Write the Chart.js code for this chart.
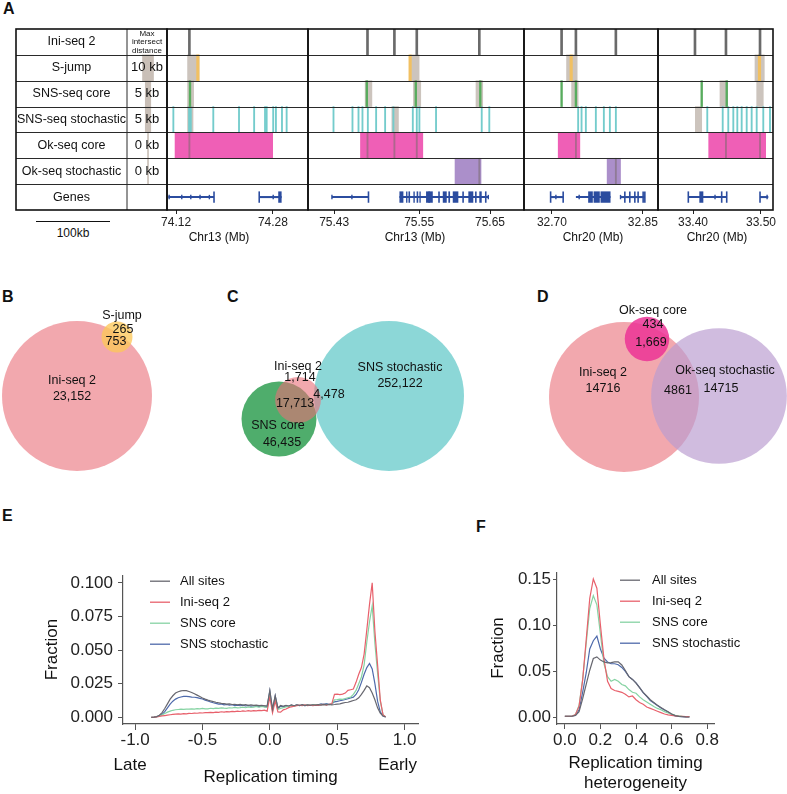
<!DOCTYPE html>
<html>
<head>
<meta charset="utf-8">
<script src="https://cdn.jsdelivr.net/npm/chart.js@4.4.1/dist/chart.umd.min.js"></script>
<style>
  body { margin: 0; background: #fff; }
  #fig { position: relative; width: 787px; height: 794px; overflow: hidden; font-family: "Liberation Sans", Arial, sans-serif; color: #111; }
  #fig canvas { position: absolute; }
  .tag { position: absolute; font-weight: bold; font-size: 16px; line-height: 16px; }
  .scalebar { position: absolute; left: 36px; top: 221px; width: 74px; border-top: 1.5px solid #111; }
  .scaletext { position: absolute; left: 36px; top: 226px; width: 74px; text-align: center; font-size: 12px; }
</style>
</head>
<body>
<div id="fig">
  <div class="tag" style="left:3px;top:1px">A</div>
  <div class="tag" style="left:2px;top:289px">B</div>
  <div class="tag" style="left:227px;top:289px">C</div>
  <div class="tag" style="left:537px;top:289px">D</div>
  <div class="tag" style="left:2px;top:508px">E</div>
  <div class="tag" style="left:476px;top:519px">F</div>
  <div class="scalebar"></div>
  <div class="scaletext">100kb</div>
</div>
<script>
// ---------------- panel A : tracks ----------------
const trackRows = ["Ini-seq 2", "S-jump", "SNS-seq core", "SNS-seq stochastic", "Ok-seq core", "Ok-seq stochastic", "Genes"];
const maxDistanceKb = [null, 10, 5, 5, 0, 0, null];
const maxDistanceLabels = ["", "10 kb", "5 kb", "5 kb", "0 kb", "0 kb", ""];

const chromNames = ["Chr13", "Chr13", "Chr20", "Chr20"];
const chromRanges = [[74.105, 74.338], [75.393, 75.698], [32.654, 32.875], [33.3485, 33.5177]];
const chromTicks = [[74.12, 74.28], [75.43, 75.55, 75.65], [32.70, 32.85], [33.40, 33.50]];

// positions in Mb, one list per region
const iniSeqSites = [[74.142], [75.477, 75.515, 75.5466, 75.6349], [32.716, 32.7396, 32.8055], [33.4029, 33.4485, 33.4986]];
const sJumpSites = [[74.156], [75.5372], [32.7318], [33.4978]];
const sJumpHits = [[[74.139, 74.158]], [[75.5372, 75.5499]], [[32.7242, 32.7417]], [[33.4912, 33.5049]]];
const snsCoreSites = [[74.143], [75.4761, 75.5452, 75.6363], [32.716, 32.7396], [33.4128, 33.4496]];
const snsCoreHits = [[[74.139, 74.149]], [[75.4737, 75.4832], [75.5418, 75.5522], [75.6302, 75.6397]], [[32.7325, 32.7433]], [[33.4397, 33.451], [33.4937, 33.5034]]];
const snsStochSites = [
  [74.1155, 74.1415, 74.1443, 74.1815, 74.224, 74.249, 74.267, 74.2697, 74.2805, 74.285, 74.295, 74.3027],
  [75.429, 75.4558, 75.4643, 75.4699, 75.4775, 75.4892, 75.5019, 75.5136, 75.541, 75.5466, 75.5503, 75.5738, 75.6383, 75.649],
  [32.7433, 32.7489, 32.756, 32.7725, 32.7857, 32.7956, 32.8055],
  [33.421, 33.4437, 33.4519, 33.4593, 33.4652, 33.4716, 33.479, 33.4863, 33.4937, 33.5034, 33.5133]
];
const snsStochHits = [[[74.139, 74.148]], [[75.5114, 75.5207]], [], [[33.4034, 33.4128]]];
const okCoreZones = [[[74.1183, 74.2796]], [[75.4671, 75.5551]], [[32.7104, 32.7461]], [[33.4231, 33.5069]]];
const okCoreHits = [[74.142], [75.477, 75.515, 75.5466], [32.7396], [33.4485, 33.4986]];
const okStochZones = [[], [[75.6006, 75.6373]], [[32.7911, 32.8132]], []];
const okStochHits = [[], [75.6349], [32.8055], []];
const geneSpans = [
  [[74.1073, 74.1827], [74.2574, 74.2944]],
  [[75.4268, 75.4784], [75.5221, 75.6476]],
  [[32.6979, 32.7186], [32.7396, 32.7967], [32.8132, 32.8533]],
  [[33.3931, 33.4496], [33.4986, 33.5108]]
];
const geneExons = [
  [[74.2888, 74.2944]],
  [[75.5221, 75.5277], [75.5315, 75.5334], [75.5418, 75.5438], [75.5503, 75.5522], [75.5597, 75.5692], [75.5833, 75.5889], [75.5912, 75.5936], [75.5974, 75.6053], [75.6194, 75.6264], [75.6349, 75.6383]],
  [[32.7598, 32.7675], [32.7688, 32.7790], [32.7802, 32.7967]],
  [[33.4093, 33.4152]]
];
const geneTicks = [
  [74.1827, 74.2574],
  [75.4784, 75.536, 75.5475, 75.564, 75.578, 75.612, 75.63, 75.644],
  [32.6979, 32.7186, 32.8203, 32.8285, 32.8368, 32.8422, 32.8505, 32.8533],
  [33.3931, 33.4422, 33.4496, 33.4986]
];
const geneArrows = [
  [74.1085, 74.1294, 74.1443, 74.1596, 74.175, 74.2805],
  [75.4268, 75.455, 75.6476],
  [32.7066, 32.745, 32.8132],
  [33.4324, 33.509]
];

// ---------------- panels B-D : venn ----------------
const vennBSets = ["Ini-seq 2", "S-jump"];
const vennBSizes = [23905, 1018];
const vennBCounts = ["23,152", "265", "753"];
const vennCSets = ["SNS stochastic", "SNS core", "Ini-seq 2"];
const vennCSizes = [256600, 64148, 23905];
const vennCCounts = ["252,122", "46,435", "1,714", "17,713", "4,478"];
const vennDSets = ["Ini-seq 2", "Ok-seq stochastic", "Ok-seq core"];
const vennDSizes = [23905, 19576, 2103];
const vennDCounts = ["14716", "14715", "434", "1,669", "4861"];

// ---------------- panel E : replication timing ----------------
const timingBins = [
  -0.88, -0.86, -0.84, -0.82, -0.80, -0.78, -0.76, -0.74, -0.72, -0.70,
  -0.68, -0.66, -0.64, -0.62, -0.60, -0.58, -0.56, -0.54, -0.52, -0.50,
  -0.48, -0.46, -0.44, -0.42, -0.40, -0.38, -0.36, -0.34, -0.32, -0.30,
  -0.28, -0.26, -0.24, -0.22, -0.20, -0.18, -0.16, -0.14, -0.12, -0.10,
  -0.08, -0.06, -0.04, -0.02, 0.00, 0.02, 0.04, 0.06, 0.08, 0.10,
  0.12, 0.14, 0.16, 0.18, 0.20, 0.22, 0.24, 0.26, 0.28, 0.30,
  0.32, 0.34, 0.36, 0.38, 0.40, 0.42, 0.44, 0.46, 0.48, 0.50,
  0.52, 0.54, 0.56, 0.58, 0.60, 0.62, 0.64, 0.66, 0.68, 0.70,
  0.72, 0.74, 0.76, 0.78, 0.80, 0.82, 0.84, 0.86
];
const timingAllSites = [
  0.0000, 0.0001, 0.0005, 0.0015, 0.0035, 0.0065, 0.0100, 0.0135, 0.0160, 0.0180,
  0.0190, 0.0196, 0.0199, 0.0198, 0.0192, 0.0184, 0.0175, 0.0165, 0.0155, 0.0144,
  0.0135, 0.0128, 0.0122, 0.0117, 0.0112, 0.0108, 0.0104, 0.0101, 0.0098, 0.0100,
  0.0095, 0.0097, 0.0093, 0.0096, 0.0091, 0.0094, 0.0089, 0.0092, 0.0088, 0.0091,
  0.0087, 0.0089, 0.0086, 0.0084, 0.0199, 0.0060, 0.0160, 0.0070, 0.0088, 0.0082,
  0.0089, 0.0084, 0.0092, 0.0086, 0.0093, 0.0088, 0.0094, 0.0087, 0.0092, 0.0089,
  0.0093, 0.0090, 0.0094, 0.0091, 0.0096, 0.0092, 0.0095, 0.0093, 0.0095, 0.0098,
  0.0100, 0.0105, 0.0110, 0.0112, 0.0118, 0.0125, 0.0130, 0.0145, 0.0170, 0.0200,
  0.0234, 0.0220, 0.0180, 0.0130, 0.0070, 0.0030, 0.0010, 0.0002
];
const timingIniSeq = [
  0.0000, 0.0001, 0.0003, 0.0006, 0.0010, 0.0013, 0.0016, 0.0019, 0.0021, 0.0023,
  0.0025, 0.0024, 0.0027, 0.0026, 0.0029, 0.0028, 0.0031, 0.0030, 0.0033, 0.0032,
  0.0035, 0.0034, 0.0037, 0.0035, 0.0039, 0.0037, 0.0041, 0.0039, 0.0042, 0.0040,
  0.0044, 0.0042, 0.0046, 0.0043, 0.0047, 0.0045, 0.0049, 0.0046, 0.0050, 0.0048,
  0.0052, 0.0050, 0.0053, 0.0046, 0.0150, 0.0032, 0.0120, 0.0040, 0.0038, 0.0055,
  0.0062, 0.0072, 0.0078, 0.0083, 0.0087, 0.0091, 0.0086, 0.0092, 0.0087, 0.0091,
  0.0086, 0.0090, 0.0088, 0.0093, 0.0096, 0.0091, 0.0097, 0.0100, 0.0170, 0.0172,
  0.0168, 0.0172, 0.0180, 0.0200, 0.0205, 0.0210, 0.0260, 0.0320, 0.0370, 0.0470,
  0.0650, 0.0840, 0.1000, 0.0640, 0.0390, 0.0130, 0.0020, 0.0003
];
const timingSnsCore = [
  0.0000, 0.0001, 0.0004, 0.0010, 0.0018, 0.0028, 0.0038, 0.0046, 0.0052, 0.0056,
  0.0058, 0.0060, 0.0059, 0.0061, 0.0060, 0.0063, 0.0061, 0.0065, 0.0062, 0.0066,
  0.0063, 0.0062, 0.0067, 0.0064, 0.0068, 0.0066, 0.0070, 0.0068, 0.0067, 0.0071,
  0.0069, 0.0073, 0.0070, 0.0072, 0.0075, 0.0071, 0.0077, 0.0073, 0.0076, 0.0080,
  0.0076, 0.0081, 0.0077, 0.0072, 0.0170, 0.0048, 0.0135, 0.0058, 0.0066, 0.0072,
  0.0077, 0.0082, 0.0086, 0.0082, 0.0090, 0.0086, 0.0091, 0.0088, 0.0092, 0.0089,
  0.0092, 0.0094, 0.0091, 0.0096, 0.0093, 0.0097, 0.0094, 0.0098, 0.0130, 0.0132,
  0.0135, 0.0133, 0.0140, 0.0145, 0.0150, 0.0170, 0.0200, 0.0250, 0.0300, 0.0390,
  0.0560, 0.0710, 0.0830, 0.0550, 0.0330, 0.0120, 0.0020, 0.0003
];
const timingSnsStochastic = [
  0.0000, 0.0001, 0.0004, 0.0010, 0.0022, 0.0042, 0.0070, 0.0098, 0.0120, 0.0135,
  0.0145, 0.0151, 0.0155, 0.0156, 0.0154, 0.0150, 0.0149, 0.0146, 0.0141, 0.0136,
  0.0128, 0.0121, 0.0114, 0.0108, 0.0103, 0.0098, 0.0100, 0.0093, 0.0095, 0.0090,
  0.0093, 0.0087, 0.0091, 0.0086, 0.0090, 0.0084, 0.0088, 0.0082, 0.0086, 0.0081,
  0.0080, 0.0084, 0.0079, 0.0077, 0.0196, 0.0056, 0.0158, 0.0066, 0.0082, 0.0079,
  0.0087, 0.0081, 0.0090, 0.0083, 0.0092, 0.0086, 0.0093, 0.0087, 0.0091, 0.0089,
  0.0093, 0.0089, 0.0092, 0.0099, 0.0096, 0.0101, 0.0097, 0.0100, 0.0115, 0.0118,
  0.0123, 0.0127, 0.0132, 0.0138, 0.0144, 0.0150, 0.0170, 0.0205, 0.0260, 0.0320,
  0.0370, 0.0400, 0.0360, 0.0250, 0.0120, 0.0040, 0.0010, 0.0002
];
const timingTicksX = [-1.0, -0.5, 0.0, 0.5, 1.0];
const timingTicksY = [0.000, 0.025, 0.050, 0.075, 0.100];

// ---------------- panel F : timing heterogeneity ----------------
const heteroBins = [
  0.00, 0.02, 0.04, 0.06, 0.08, 0.10, 0.12, 0.14, 0.16, 0.18,
  0.20, 0.22, 0.24, 0.26, 0.28, 0.30, 0.32, 0.34, 0.36, 0.38,
  0.40, 0.42, 0.44, 0.46, 0.48, 0.50, 0.52, 0.54, 0.56, 0.58,
  0.60, 0.62, 0.64, 0.66, 0.68, 0.70
];
const heteroAllSites = [
  0.0010, 0.0010, 0.0010, 0.0020, 0.0060, 0.0200, 0.0356, 0.0510, 0.0637, 0.0655,
  0.0620, 0.0600, 0.0590, 0.0593, 0.0600, 0.0600, 0.0567, 0.0507, 0.0440, 0.0410,
  0.0370, 0.0320, 0.0270, 0.0230, 0.0190, 0.0160, 0.0130, 0.0105, 0.0080, 0.0058,
  0.0035, 0.0017, 0.0009, 0.0005, 0.0003, 0.0002
];
const heteroIniSeq = [
  0.0010, 0.0010, 0.0010, 0.0030, 0.0120, 0.0400, 0.0840, 0.1290, 0.1500, 0.1400,
  0.1000, 0.0630, 0.0390, 0.0310, 0.0290, 0.0280, 0.0270, 0.0250, 0.0220, 0.0230,
  0.0190, 0.0160, 0.0140, 0.0110, 0.0095, 0.0080, 0.0065, 0.0050, 0.0035, 0.0025,
  0.0020, 0.0015, 0.0010, 0.0008, 0.0006, 0.0005
];
const heteroSnsCore = [
  0.0010, 0.0010, 0.0010, 0.0030, 0.0130, 0.0410, 0.0800, 0.1180, 0.1320, 0.1220,
  0.0900, 0.0580, 0.0440, 0.0390, 0.0410, 0.0390, 0.0355, 0.0340, 0.0300, 0.0270,
  0.0260, 0.0220, 0.0190, 0.0165, 0.0140, 0.0115, 0.0095, 0.0080, 0.0060, 0.0045,
  0.0033, 0.0020, 0.0015, 0.0010, 0.0007, 0.0005
];
const heteroSnsStochastic = [
  0.0010, 0.0010, 0.0010, 0.0020, 0.0080, 0.0270, 0.0480, 0.0740, 0.0830, 0.0880,
  0.0740, 0.0640, 0.0600, 0.0580, 0.0580, 0.0570, 0.0540, 0.0497, 0.0440, 0.0410,
  0.0373, 0.0320, 0.0267, 0.0225, 0.0180, 0.0155, 0.0127, 0.0100, 0.0077, 0.0056,
  0.0032, 0.0015, 0.0008, 0.0005, 0.0003, 0.0002
];
const heteroTicksX = [0.0, 0.2, 0.4, 0.6, 0.8];
const heteroTicksY = [0.00, 0.05, 0.10, 0.15];

const seriesNames = ["All sites", "Ini-seq 2", "SNS core", "SNS stochastic"];

// ---------------- styling / layout ----------------
const FONT = '"Liberation Sans", Arial, Helvetica, sans-serif';
Chart.defaults.font.family = FONT;
Chart.defaults.color = "#222";

const trackColors = {
  ini: "#6a6a6a", sJump: "#f1c062", snsCore: "#58ac5e", snsStoch: "#74cccc",
  okCore: "#ef5fb6", okStoch: "#ab8fca", gene: "#2b4c9f",
  hit: "rgba(176,164,154,0.65)", hitLine: "rgba(120,108,108,0.55)", distance: "rgba(192,180,170,0.85)"
};
const seriesColors = ["#67676f", "#e8616c", "#86d3a3", "#4e6aab"];

const panelBoxes = [[167, 308], [308, 524], [524, 658], [658, 773]];
const panelTitleX = [219, 415, 593, 717];
const PAD = 30;

const fig = document.getElementById("fig");
function addCanvas(left, top, width, height) {
  const c = document.createElement("canvas");
  c.width = width; c.height = height;
  c.style.left = left + "px"; c.style.top = top + "px";
  c.style.width = width + "px"; c.style.height = height + "px";
  fig.appendChild(c);
  return c;
}

// free text placed on a chart, either at canvas px or at an x value
const captions = {
  id: "captions",
  afterDraw(chart, args, o) {
    const ctx = chart.ctx;
    ctx.save();
    ctx.fillStyle = o.color || "#111";
    ctx.textAlign = "center";
    ctx.textBaseline = "middle";
    (o.items || []).forEach(it => {
      ctx.font = (it.size || o.size || 12) + "px " + FONT;
      const x = it.value !== undefined ? chart.scales.x.getPixelForValue(it.value) + (it.dx || 0) : it.x - (o.ox || 0);
      ctx.fillText(it.text, x, it.y - (o.oy || 0));
    });
    ctx.restore();
  }
};

// row lines + outer frame of the track boxes
const trackFrame = {
  id: "trackFrame",
  afterDatasetsDraw(chart, args, o) {
    const { ctx, chartArea: a } = chart;
    const n = trackRows.length;
    const h = (a.bottom - a.top) / n;
    ctx.save();
    ctx.strokeStyle = "#2a2a2a";
    ctx.lineWidth = 1;
    for (let k = 1; k < n; k++) {
      const y = Math.round(a.top + k * h) + 0.5;
      ctx.beginPath(); ctx.moveTo(a.left, y); ctx.lineTo(a.right, y); ctx.stroke();
    }
    if (o.divider) {
      const x = a.left + o.divider;
      ctx.beginPath(); ctx.moveTo(x, a.top); ctx.lineTo(x, a.bottom); ctx.stroke();
    }
    ctx.strokeStyle = "#111";
    ctx.lineWidth = 1.6;
    ctx.strokeRect(a.left, a.top, a.right - a.left, a.bottom - a.top);
    if (o.table) {
      const colX = a.left + o.divider;
      ctx.fillStyle = "#111";
      ctx.textAlign = "center";
      ctx.textBaseline = "middle";
      trackRows.forEach((r, k) => {
        const y = a.top + (k + 0.5) * h;
        ctx.font = "12.5px " + FONT;
        ctx.fillText(r, (a.left + colX) / 2, y);
        if (maxDistanceLabels[k]) {
          ctx.font = "13px " + FONT;
          ctx.fillText(maxDistanceLabels[k], (colX + a.right) / 2, y);
        }
      });
      ctx.font = "8px " + FONT;
      const cy = a.top + 0.5 * h;
      ["Max", "intersect", "distance"].forEach((t, i) => ctx.fillText(t, (colX + a.right) / 2, cy + (i - 1) * 8.5));
    }
    ctx.restore();
  }
};

function barSet(data, color, order, extra) {
  return Object.assign({
    data, backgroundColor: color, order,
    barPercentage: 1, categoryPercentage: 1, grouped: false, borderWidth: 0
  }, extra || {});
}

// table on the left of panel A
(function () {
  const left = 0, top = 20, w = 180, h = 230;
  const c = addCanvas(left, top, w, h);
  const rows = trackRows.filter((r, k) => maxDistanceKb[k] !== null);
  const data = rows.map(r => {
    const d = Math.max(maxDistanceKb[trackRows.indexOf(r)], 0.9);
    return { y: r, x: [-d, d] };
  });
  new Chart(c, {
    type: "bar",
    data: { labels: trackRows, datasets: [barSet(data, trackColors.distance, 1)] },
    options: {
      indexAxis: "y", responsive: false, animation: false, events: [],
      layout: { padding: { left: 16, right: 13, top: 9, bottom: 40 } },
      scales: {
        y: { type: "category", display: false },
        x: { type: "linear", min: -240, max: 34.5, display: false }
      },
      plugins: { legend: { display: false }, tooltip: { enabled: false }, trackFrame: { divider: 111, table: true } }
    },
    plugins: [trackFrame]
  });
})();

// the four genome windows
panelBoxes.forEach(([x0, x1], p) => {
  const w = x1 - x0;
  const [lo, hi] = chromRanges[p];
  const mbPerPx = (hi - lo) / w;
  const canvasLeft = x0 - PAD;
  const c = addCanvas(canvasLeft, 20, w + 2 * PAD, 230);
  const R = trackRows;
  const span = (list, row) => list.map(iv => ({ y: row, x: iv }));
  const mark = (list, row, px) => list.map(v => ({ y: row, x: [v - px * mbPerPx / 2, v + px * mbPerPx / 2] }));
  const datasets = [
    barSet(span(okCoreZones[p], R[4]), trackColors.okCore, 6),
    barSet(span(okStochZones[p], R[5]), trackColors.okStoch, 6),
    barSet(span(sJumpHits[p], R[1]), trackColors.hit, 4),
    barSet(span(snsCoreHits[p], R[2]), trackColors.hit, 4),
    barSet(span(snsStochHits[p], R[3]), trackColors.hit, 4),
    barSet(mark(okCoreHits[p], R[4], 1.2), trackColors.hitLine, 3),
    barSet(mark(okStochHits[p], R[5], 1.2), trackColors.hitLine, 3),
    barSet(mark(iniSeqSites[p], R[0], 2), trackColors.ini, 2),
    barSet(mark(sJumpSites[p], R[1], 2.5), trackColors.sJump, 2),
    barSet(mark(snsCoreSites[p], R[2], 1.7), trackColors.snsCore, 2),
    barSet(mark(snsStochSites[p], R[3], 1.2), trackColors.snsStoch, 2),
    barSet(span(geneSpans[p], R[6]), trackColors.gene, 2, { barPercentage: 0.08 }),
    barSet(span(geneExons[p], R[6]), trackColors.gene, 2, { barPercentage: 0.44 }),
    barSet(mark(geneTicks[p], R[6], 1.6), trackColors.gene, 2, { barPercentage: 0.44 }),
    barSet(mark(geneArrows[p], R[6], 1.4), trackColors.gene, 2, { barPercentage: 0.17 })
  ];
  new Chart(c, {
    type: "bar",
    data: { labels: trackRows, datasets },
    options: {
      indexAxis: "y", responsive: false, animation: false, events: [],
      layout: { padding: { left: PAD, right: PAD, top: 9, bottom: 0 } },
      scales: {
        y: { type: "category", display: false },
        x: {
          type: "linear", position: "bottom", min: lo, max: hi,
          afterBuildTicks: s => { s.ticks = chromTicks[p].map(v => ({ value: v })); },
          afterFit: s => { s.height = 40; },
          grid: { display: true, drawOnChartArea: false, drawTicks: true, tickLength: 4, color: "#222", lineWidth: 1 },
          border: { display: false },
          ticks: { font: { size: 12 }, color: "#222", padding: 1, maxRotation: 0, autoSkip: false, callback: v => v.toFixed(2) }
        }
      },
      plugins: {
        legend: { display: false }, tooltip: { enabled: false },
        trackFrame: {},
        captions: { ox: canvasLeft, oy: 20, size: 12, items: [{ text: chromNames[p] + " (Mb)", x: panelTitleX[p], y: 238 }] }
      }
    },
    plugins: [trackFrame, captions]
  });
});

// ---------------- venn diagrams (bubble chart in page px) ----------------
(function () {
  const top = 280, height = 205;
  const M = 75; // bubble charts reserve room for the largest radius around the plot area
  const c = addCanvas(-M, top - M, 787 + 2 * M, height + 2 * M);
  const scaleR = (sizes) => sizes.map(s => M * Math.sqrt(s / Math.max(...sizes)));
  const rB = scaleR(vennBSizes), rC = scaleR(vennCSizes), rD = scaleR(vennDSizes);
  const centers = {
    B: [[77, 396], [117, 337]],
    C: [[389, 396], [279, 419], [298, 400]],
    D: [[624, 397], [719, 396], [647, 339]]
  };
  const fills = {
    B: ["rgba(233,110,120,0.6)", "rgba(253,200,90,0.78)"],
    C: ["rgba(120,208,208,0.85)", "rgba(55,162,88,0.88)", "rgba(233,110,120,0.6)"],
    D: ["rgba(233,110,120,0.6)", "rgba(186,156,208,0.68)", "rgba(236,52,150,0.85)"]
  };
  const datasets = [];
  [["B", vennBSets, rB], ["C", vennCSets, rC], ["D", vennDSets, rD]].forEach(([g, names, radii]) => {
    names.forEach((n, i) => {
      datasets.push({
        label: g + " " + n,
        data: [{ x: centers[g][i][0], y: centers[g][i][1], r: radii[i] }],
        backgroundColor: fills[g][i], borderWidth: 0, order: 10 - i, clip: false
      });
    });
  });
  const items = [
    { text: vennBSets[1], x: 122, y: 316 }, { text: vennBCounts[1], x: 123, y: 330 }, { text: vennBCounts[2], x: 116, y: 342 },
    { text: vennBSets[0], x: 72, y: 381 }, { text: vennBCounts[0], x: 72, y: 397 },
    { text: vennCSets[2], x: 298, y: 367 }, { text: vennCCounts[2], x: 300, y: 378 },
    { text: vennCCounts[4], x: 329, y: 395 }, { text: vennCCounts[3], x: 295, y: 404 },
    { text: vennCSets[1], x: 278, y: 426 }, { text: vennCCounts[1], x: 282, y: 443 },
    { text: vennCSets[0], x: 400, y: 368 }, { text: vennCCounts[0], x: 400, y: 384 },
    { text: vennDSets[2], x: 653, y: 311 }, { text: vennDCounts[2], x: 653, y: 325 }, { text: vennDCounts[3], x: 651, y: 343 },
    { text: vennDSets[0], x: 603, y: 373 }, { text: vennDCounts[0], x: 603, y: 389 },
    { text: vennDSets[1], x: 725, y: 371 }, { text: vennDCounts[4], x: 678, y: 391 }, { text: vennDCounts[1], x: 721, y: 389 }
  ];
  new Chart(c, {
    type: "bubble",
    data: { datasets },
    options: {
      responsive: false, animation: false, events: [],
      layout: { padding: 0 },
      scales: {
        x: { type: "linear", min: 0, max: 787, display: false },
        y: { type: "linear", min: top, max: top + height, reverse: true, display: false }
      },
      plugins: { legend: { display: false }, tooltip: { enabled: false }, captions: { ox: -M, oy: top - M, size: 12.5, items } }
    },
    plugins: [captions]
  });
})();

// ---------------- profile line charts ----------------
const lineLegend = {
  id: "lineLegend",
  afterDraw(chart, args, o) {
    const { ctx, chartArea: a } = chart;
    ctx.save();
    ctx.font = "13px " + FONT;
    ctx.textBaseline = "middle";
    ctx.textAlign = "left";
    chart.data.datasets.forEach((ds, k) => {
      const y = a.top + o.top + k * o.gap;
      const x = a.left + o.left;
      ctx.strokeStyle = ds.borderColor;
      ctx.lineWidth = 1.3;
      ctx.beginPath(); ctx.moveTo(x, y); ctx.lineTo(x + 20, y); ctx.stroke();
      ctx.fillStyle = "#111";
      ctx.fillText(ds.label, x + o.text, y);
    });
    ctx.restore();
  }
};

function profileChart(box, xs, valueLists, cfg) {
  const c = addCanvas(box.left, box.top, box.width, box.height);
  const datasets = valueLists.map((vals, k) => ({
    label: seriesNames[k],
    data: xs.map((x, i) => ({ x, y: vals[i] })),
    borderColor: seriesColors[k], borderWidth: 1.2, pointRadius: 0, fill: false, tension: 0
  }));
  new Chart(c, {
    type: "line",
    data: { datasets },
    options: {
      responsive: false, animation: false, events: [],
      layout: { padding: cfg.padding },
      scales: {
        x: {
          type: "linear", min: cfg.xRange[0], max: cfg.xRange[1],
          afterBuildTicks: s => { s.ticks = cfg.xTicks.map(v => ({ value: v })); },
          afterFit: s => { s.height = cfg.xHeight; },
          grid: { display: true, drawOnChartArea: false, tickLength: cfg.xTickLen, color: "#555" },
          border: { display: true, color: "#555", width: 1.2 },
          ticks: { font: { size: 17 }, color: "#222", padding: cfg.xTickPad, maxRotation: 0, autoSkip: false, callback: v => v.toFixed(1) },
          title: { display: true, text: cfg.xTitle, color: "#111", font: { size: 17, lineHeight: 1.15 }, padding: { top: 0, bottom: cfg.xTitlePad } }
        },
        y: {
          type: "linear", min: cfg.yRange[0], max: cfg.yRange[1],
          afterBuildTicks: s => { s.ticks = cfg.yTicks.map(v => ({ value: v })); },
          afterFit: s => { s.width = cfg.yWidth; },
          grid: { display: true, drawOnChartArea: false, tickLength: cfg.yTickLen, color: "#555" },
          border: { display: true, color: "#555", width: 1.2 },
          ticks: { font: { size: 17 }, color: "#222", padding: cfg.yTickPad, autoSkip: false, callback: v => v.toFixed(cfg.yDigits) },
          title: { display: true, text: "Fraction", color: "#111", font: { size: 17 }, padding: { top: 4, bottom: 0 } }
        }
      },
      plugins: {
        legend: { display: false }, tooltip: { enabled: false },
        lineLegend: cfg.legend,
        captions: { oy: box.top, size: 17, items: cfg.captions || [] }
      }
    },
    plugins: [lineLegend, captions]
  });
}

profileChart({ left: 30, top: 560, width: 400, height: 234 }, timingBins,
  [timingAllSites, timingIniSeq, timingSnsCore, timingSnsStochastic], {
    padding: { left: 8, right: 12, top: 8, bottom: 0 },
    xRange: [-1.09, 1.10], yRange: [-0.005, 0.1057],
    xTicks: timingTicksX, yTicks: timingTicksY, yDigits: 3,
    xHeight: 70, yWidth: 85, xTickLen: 6, xTickPad: 0, yTickLen: 5, yTickPad: 5,
    xTitle: "Replication timing", xTitlePad: 7,
    legend: { left: 27, top: 6, gap: 21, text: 30 },
    captions: [{ text: "Late", value: -1.0, dx: -5, y: 765 }, { text: "Early", value: 1.0, dx: -7, y: 765 }]
  });

profileChart({ left: 476, top: 560, width: 311, height: 234 }, heteroBins,
  [heteroAllSites, heteroIniSeq, heteroSnsCore, heteroSnsStochastic], {
    padding: { left: 8, right: 73, top: 8, bottom: 0 },
    xRange: [-0.044, 0.838], yRange: [-0.0074, 0.1574],
    xTicks: heteroTicksX, yTicks: heteroTicksY, yDigits: 2,
    xHeight: 70, yWidth: 73, xTickLen: 5, xTickPad: 1, yTickLen: 4, yTickPad: 2,
    xTitle: ["Replication timing", "heterogeneity"], xTitlePad: 1,
    legend: { left: 63, top: 8, gap: 21, text: 32 }
  });
</script>
</body>
</html>
